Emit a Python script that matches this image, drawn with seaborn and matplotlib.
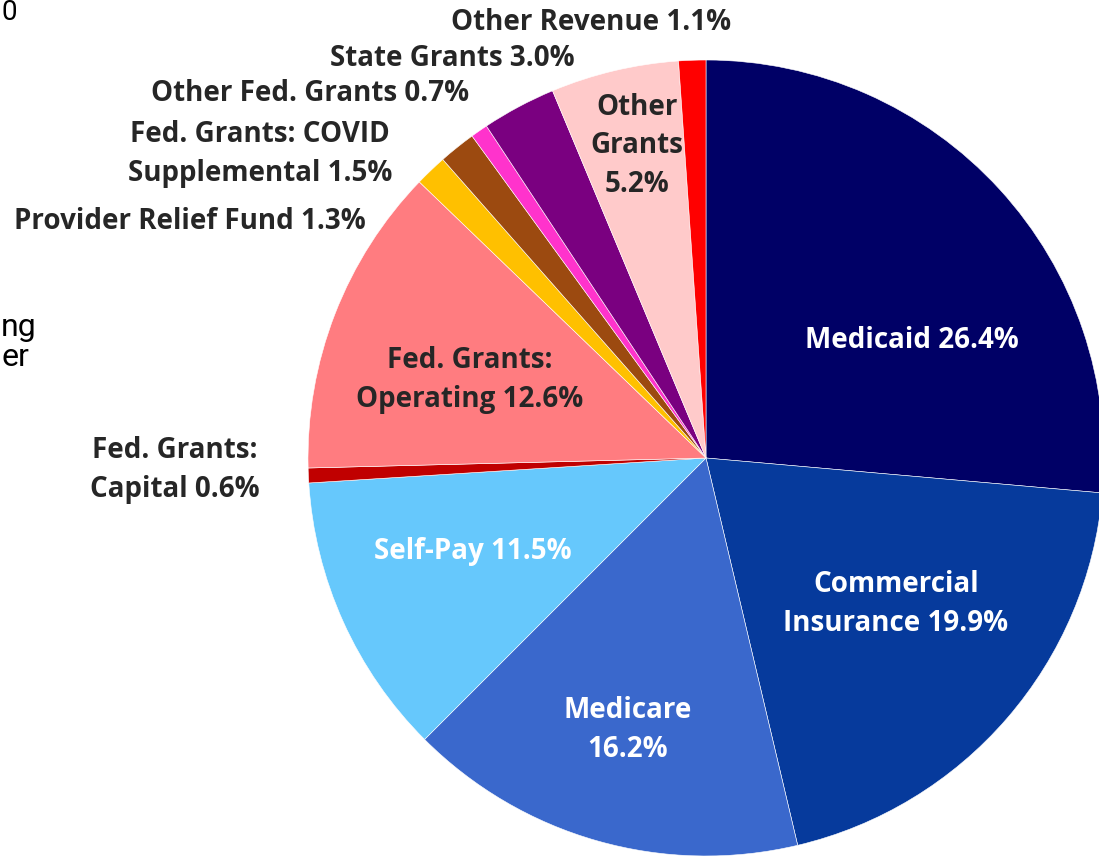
import matplotlib
matplotlib.use("Agg")
import matplotlib.pyplot as plt
import seaborn as sns

# Revenue shares, clockwise from 12 o'clock
categories = ["Medicaid", "Commercial Insurance", "Medicare", "Self-Pay",
              "Fed. Grants: Capital", "Fed. Grants: Operating",
              "Provider Relief Fund", "Fed. Grants: COVID Supplemental",
              "Other Fed. Grants", "State Grants", "Other Grants", "Other Revenue"]
shares = [26.4, 19.9, 16.2, 11.5, 0.6, 12.6, 1.3, 1.5, 0.7, 3.0, 5.2, 1.1]
label_text = ["Medicaid 26.4%", "Commercial\nInsurance 19.9%", "Medicare\n16.2%",
              "Self-Pay 11.5%", "Fed. Grants:\nCapital 0.6%",
              "Fed. Grants:\nOperating 12.6%", "Provider Relief Fund 1.3%",
              "Fed. Grants: COVID\nSupplemental 1.5%", "Other Fed. Grants 0.7%",
              "State Grants 3.0%", "Other\nGrants\n5.2%", "Other Revenue 1.1%"]

colors = ["#000066", "#063a9c", "#3a68cc", "#66c8fc", "#c00000", "#ff7c80",
          "#ffc000", "#9c4a10", "#ff33cc", "#7a0080", "#ffcaca", "#ff0000"]
text_colors = ["white", "white", "white", "white", "#262626", "#262626",
               "#262626", "#262626", "#262626", "#262626", "#262626", "#262626"]
# label anchor in pie-radius units
label_xy = [(0.518, 0.294), (0.477, -0.367), (-0.196, -0.683), (-0.585, -0.234),
            (-1.334, -0.030), (-0.593, 0.196), (-1.296, 0.593), (-1.121, 0.764),
            (-0.995, 0.915), (-0.638, 1.005), (-0.173, 0.784), (-0.289, 1.095)]

sns.set_theme(style="white")
plt.rcParams["font.family"] = ["Open Sans", "DejaVu Sans"]

fig = plt.figure(figsize=(10.99, 8.57), dpi=100)
ax = fig.add_axes([308 / 1099, 1 / 857, 796 / 1099, 796 / 857])
ax.pie(shares, colors=colors, startangle=90, counterclock=False, radius=1,
       wedgeprops=dict(edgecolor="white", linewidth=0.4))
ax.set_xlim(-1, 1)
ax.set_ylim(-1, 1)
ax.set_aspect("equal")
ax.axis("off")

for txt, (x, y), c in zip(label_text, label_xy, text_colors):
    ax.text(x, y, txt, ha="center", va="center", color=c, fontsize=20,
            fontweight="bold", linespacing=1.45, clip_on=False)

# fragments of neighbouring text at the left edge
for frag, py, fs in [("0", 13, 20), ("ng", 327, 23), ("er", 358, 23)]:
    fig.text(0.001, 1 - py / 857, frag, ha="left", va="center", fontsize=fs,
             family="Roboto", color="black")

fig.savefig("out.png", dpi=100)
